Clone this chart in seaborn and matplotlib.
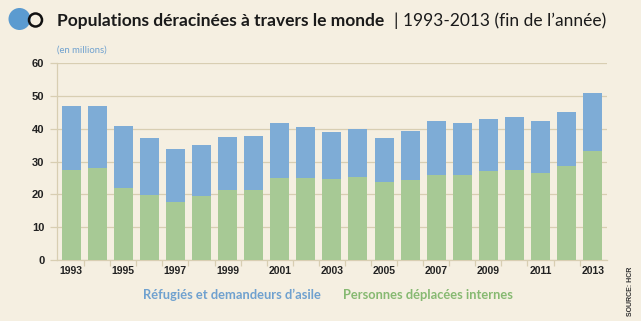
import matplotlib
matplotlib.use("Agg")
import matplotlib.pyplot as plt
import seaborn as sns
import numpy as np
import pandas as pd
from matplotlib.patches import Circle
from matplotlib.ticker import FixedLocator

years = [str(y) for y in range(1993, 2014)]
idp = [27.5, 28.1, 22.1, 19.8, 17.6, 19.4, 21.4, 21.4, 25.0, 25.0, 24.6,
       25.4, 23.8, 24.4, 26.0, 26.0, 27.1, 27.5, 26.4, 28.8, 33.3]
refugees = [19.6, 19.0, 18.8, 17.3, 16.3, 15.8, 16.1, 16.5, 16.9, 15.5, 14.5,
            14.5, 13.5, 15.0, 16.5, 15.8, 15.9, 16.0, 16.0, 16.2, 17.6]
yticks = [0, 10, 20, 30, 40, 50, 60]
title_bold = "Populations déracinées à travers le monde"
title_rest = "| 1993-2013 (fin de l’année)"
unit_label = "(en millions)"
legend_labels = ["Réfugiés et demandeurs d’asile", "Personnes déplacées internes"]
source = "SOURCE: HCR"

BG = "#f5efe1"
BLUE = "#7eacd6"
GREEN = "#a7c995"
GRID = "#d8ceb2"
BLUE_TXT = "#6fa1cf"
GREEN_TXT = "#86b971"

df = pd.DataFrame({"year": years, "idp": idp, "ref": refugees})
df["total"] = df["idp"] + df["ref"]

sns.set_theme(style="white")
plt.rcParams["font.family"] = ["Liberation Sans Narrow", "Liberation Sans", "DejaVu Sans"]

W, H = 641, 321
fig = plt.figure(figsize=(W/100, H/100), dpi=100, facecolor=BG)
ax = fig.add_axes([57/W, 1-260/H, (607-57)/W, (260-63.3)/H])
ax.set_facecolor(BG)

sns.barplot(data=df, x="year", y="total", color=BLUE, saturation=1, width=0.73,
            ax=ax, zorder=3)
sns.barplot(data=df, x="year", y="idp", color=GREEN, saturation=1, width=0.73,
            ax=ax, zorder=4)
for p in ax.patches:
    p.set_edgecolor("none")
    p.set_linewidth(0)

ax.set_xlim(-0.54, 20.55)
ax.set_ylim(0, 60)
ax.set_yticks(yticks)
ax.set_yticklabels([str(v) for v in yticks], fontsize=8, fontweight="bold", color="#222222")
ax.yaxis.grid(True, color=GRID, linewidth=0.9, zorder=0)
ax.set_axisbelow(True)

ax.set_xticks(range(len(years)))
ax.set_xticklabels([y if i % 2 == 0 else "" for i, y in enumerate(years)],
                   fontsize=7.5, fontweight="bold", color="#222222")
ax.xaxis.set_minor_locator(FixedLocator(np.arange(0.5, 20.5, 1.0)))
ax.tick_params(axis="x", which="major", length=0, pad=4)
ax.tick_params(axis="x", which="minor", length=4, color=GRID, width=0.9, bottom=True)
ax.tick_params(axis="y", which="major", length=5, color=GRID, width=0.9, left=True, pad=4)

ax.set_xlabel("")
ax.set_ylabel("")
for s in ["top", "right"]:
    ax.spines[s].set_visible(False)
ax.spines["left"].set_color(GRID)
ax.spines["left"].set_linewidth(0.9)
ax.spines["bottom"].set_color(GRID)
ax.spines["bottom"].set_linewidth(0.9)

# logo circles (in inches so they stay round)
fig.add_artist(Circle((19.5/100, (H-19)/100), 0.11, transform=fig.dpi_scale_trans,
                      facecolor="#5b9bd0", edgecolor="none"))
fig.add_artist(Circle((35.5/100, (H-20)/100), 0.065, transform=fig.dpi_scale_trans,
                      facecolor="none", edgecolor="#111111", linewidth=1.8))

t1 = fig.text(57/W, 1-21/H, title_bold, fontsize=12.5, fontweight="bold",
              color="#1a1a1a", va="center", ha="left",
              family=["Lato", "DejaVu Sans"])
fig.canvas.draw()
bb = t1.get_window_extent()
fig.text((bb.x1 + 10)/W, 1-21/H, title_rest, fontsize=12.5, color="#1a1a1a",
         va="center", ha="left", family=["Lato", "DejaVu Sans"])

fig.text(57/W, 1-50/H, unit_label, fontsize=6.8, color=BLUE_TXT, va="center", ha="left",
         family=["Lato", "DejaVu Sans"])

fig.text(143/W, 1-295/H, legend_labels[0], fontsize=9.3, fontweight="bold",
         color=BLUE_TXT, va="center", ha="left", family=["Lato", "DejaVu Sans"])
fig.text(343/W, 1-295/H, legend_labels[1], fontsize=9.3, fontweight="bold",
         color=GREEN_TXT, va="center", ha="left", family=["Lato", "DejaVu Sans"])

fig.text(630/W, 1-291/H, source, fontsize=5, fontweight="bold", color="#333333",
         rotation=90, va="center", ha="center")

fig.savefig("out.png", dpi=100, facecolor=BG)
